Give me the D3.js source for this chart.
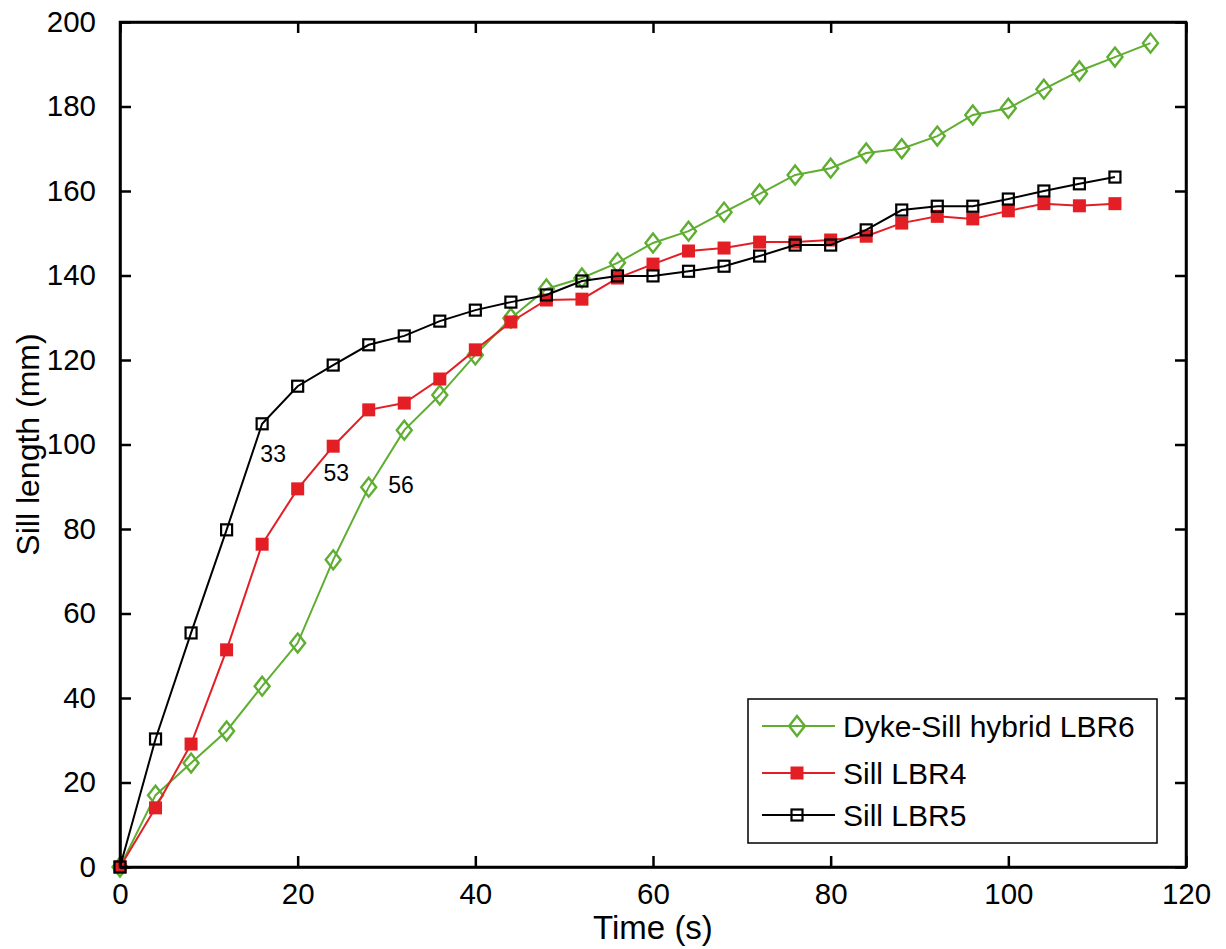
<!DOCTYPE html>
<html><head><meta charset="utf-8">
<script src="https://cdn.jsdelivr.net/npm/d3@7"></script>
<style>body{margin:0;background:#fff}svg{display:block}text{font-family:"Liberation Sans",Arial,sans-serif;fill:#000}</style>
</head><body><svg id="c" width="1226" height="949"></svg>
<script>
const timeLBR6 = [0,4,8,12,16,20,24,28,32,36,40,44,48,52,56,60,64,68,72,76,80,84,88,92,96,100,104,108,112,116];
const lenLBR6 = [0,17.0,24.6,32.2,42.8,53.0,72.7,89.9,103.4,111.7,121.2,129.9,136.8,139.4,143.0,147.7,150.5,155.0,159.3,163.8,165.4,169.0,170.0,173.0,178.0,179.6,184.1,188.4,191.7,195.0];
const timeLBR4 = [0,4,8,12,16,20,24,28,32,36,40,44,48,52,56,60,64,68,72,76,80,84,88,92,96,100,104,108,112];
const lenLBR4 = [0,14.0,29.1,51.4,76.4,89.5,99.6,108.2,109.8,115.5,122.4,129.0,134.2,134.4,139.4,142.7,145.8,146.5,147.9,147.9,148.4,149.3,152.4,154.0,153.4,155.3,157.0,156.5,157.0];
const timeLBR5 = [0,4,8,12,16,20,24,28,32,36,40,44,48,52,56,60,64,68,72,76,80,84,88,92,96,100,104,108,112];
const lenLBR5 = [0,30.3,55.4,79.8,104.9,113.8,118.8,123.6,125.7,129.2,131.8,133.7,135.4,138.7,139.9,139.9,141.0,142.2,144.6,147.2,147.2,150.8,155.5,156.4,156.4,158.1,160.0,161.7,163.3];
const seriesNames = ["Dyke-Sill hybrid LBR6","Sill LBR4","Sill LBR5"];
const xTicks = [0,20,40,60,80,100,120];
const yTicks = [0,20,40,60,80,100,120,140,160,180,200];
const annoText = ["33","53","56"];
const annoX = [15.8,22.9,30.2];
const annoY = [95.9,91.4,88.6];

const W=1226,H=949, L=120,R=1186,T=22,B=867;
const svg=d3.select("#c");
const x=d3.scaleLinear().domain([0,120]).range([L,R]);
const y=d3.scaleLinear().domain([0,200]).range([B,T]);

const series=[
 {name:seriesNames[0],t:timeLBR6,v:lenLBR6,color:"#5fae32",marker:"diamond"},
 {name:seriesNames[1],t:timeLBR4,v:lenLBR4,color:"#e31e24",marker:"fsquare"},
 {name:seriesNames[2],t:timeLBR5,v:lenLBR5,color:"#000000",marker:"osquare"}
];

function drawMarker(g,type,color,cx,cy,scale){
  scale=scale||1;
  if(type==="diamond"){
    const hw=7.5*scale,hh=9.5*scale;
    g.append("path").attr("d",`M${cx},${cy-hh}L${cx+hw},${cy}L${cx},${cy+hh}L${cx-hw},${cy}Z`)
     .attr("fill","none").attr("stroke",color).attr("stroke-width",2.4);
  } else if(type==="fsquare"){
    const s=13*scale;
    g.append("rect").attr("x",cx-s/2).attr("y",cy-s/2).attr("width",s).attr("height",s).attr("fill",color);
  } else {
    const s=11*scale;
    g.append("rect").attr("x",cx-s/2).attr("y",cy-s/2).attr("width",s).attr("height",s)
     .attr("fill","none").attr("stroke",color).attr("stroke-width",2.2);
  }
}

const plot=svg.append("g");
series.forEach(s=>{
  const pts=s.t.map((t,i)=>[t,s.v[i]]);
  const g=plot.append("g");
  g.append("path").datum(pts).attr("d",d3.line().x(d=>x(d[0])).y(d=>y(d[1])))
   .attr("fill","none").attr("stroke",s.color).attr("stroke-width",2);
  pts.forEach(p=>drawMarker(g,s.marker,s.color,x(p[0]),y(p[1])));
});

// axes (inward ticks, mirrored)
const tl=11;
const ax=svg.append("g");
ax.append("g").attr("transform",`translate(0,${B})`).call(d3.axisBottom(x).tickValues(xTicks).tickSizeInner(-tl).tickSizeOuter(0).tickPadding(16).tickFormat(d3.format("d")));
ax.append("g").attr("transform",`translate(0,${T})`).call(d3.axisTop(x).tickValues(xTicks).tickSizeInner(-tl).tickSizeOuter(0).tickFormat(""));
ax.append("g").attr("transform",`translate(${L},0)`).call(d3.axisLeft(y).tickValues(yTicks).tickSizeInner(-tl).tickSizeOuter(0).tickPadding(24).tickFormat(d3.format("d")));
ax.append("g").attr("transform",`translate(${R},0)`).call(d3.axisRight(y).tickValues(yTicks).tickSizeInner(-tl).tickSizeOuter(0).tickFormat(""));
ax.selectAll(".domain").attr("stroke","#000").attr("stroke-width",2.5);
ax.selectAll(".tick line").attr("stroke","#000").attr("stroke-width",2.5);
ax.selectAll(".tick text").style("font-size","29.5px").style("font-family","'Liberation Sans',Arial,sans-serif").attr("fill","#000");
ax.append("rect").attr("x",L).attr("y",T).attr("width",R-L).attr("height",B-T).attr("fill","none").attr("stroke","#000").attr("stroke-width",2.5);

// titles
svg.append("text").attr("x",(L+R)/2).attr("y",939).attr("text-anchor","middle").style("font-size","33px").text("Time (s)");
svg.append("text").attr("transform",`translate(39,${(T+B)/2}) rotate(-90)`).attr("text-anchor","middle").style("font-size","32px").text("Sill length (mm)");

// annotations
annoText.forEach((t,i)=>{
  svg.append("text").attr("x",x(annoX[i])).attr("y",y(annoY[i])).style("font-size","23px").text(t);
});

// legend
const lg=svg.append("g");
lg.append("rect").attr("x",748).attr("y",699).attr("width",409).attr("height",144).attr("fill","#fff").attr("stroke","#000").attr("stroke-width",1.5);
const rows=[726,773,815];
series.forEach((s,i)=>{
  const yy=rows[i];
  lg.append("line").attr("x1",762).attr("x2",835).attr("y1",yy).attr("y2",yy).attr("stroke",s.color).attr("stroke-width",2);
  drawMarker(lg,s.marker,s.color,797,yy,s.marker==="diamond"?1.05:1);
  lg.append("text").attr("x",843).attr("y",yy+11).style("font-size","30px").text(s.name);
});
</script></body></html>
